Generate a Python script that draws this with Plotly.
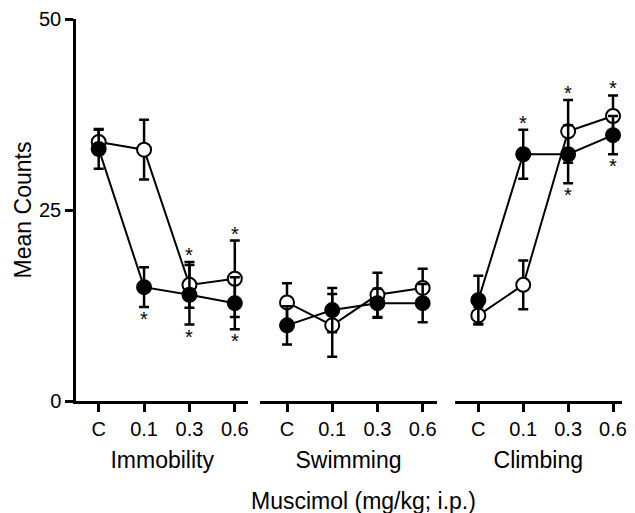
import plotly.graph_objects as go

# ---------------- data ----------------
doses = ["C", "0.1", "0.3", "0.6"]
panels = ["Immobility", "Swimming", "Climbing"]

# open circles
immob_open = [33.9, 32.9, 15.2, 16.0]
immob_open_sem = [1.6, 3.9, 3.0, 5.0]
swim_open = [12.9, 9.9, 13.9, 14.8]
swim_open_sem = [2.5, 4.1, 2.9, 2.5]
climb_open = [11.2, 15.2, 35.3, 37.3]
climb_open_sem = [1.1, 3.2, 4.1, 2.7]

# filled circles
immob_filled = [33.0, 14.9, 13.9, 12.8]
immob_filled_sem = [2.6, 2.6, 3.9, 3.4]
swim_filled = [9.9, 11.9, 12.8, 12.8]
swim_filled_sem = [2.5, 2.9, 1.9, 2.5]
climb_filled = [13.2, 32.3, 32.3, 34.8]
climb_filled_sem = [3.2, 3.2, 3.8, 2.5]

# significance stars: 1 = above the error bar, -1 = below, 0 = none
immob_open_star = [0, 0, 1, 1]
immob_filled_star = [0, -1, -1, -1]
swim_open_star = [0, 0, 0, 0]
swim_filled_star = [0, 0, 0, 0]
climb_open_star = [0, 0, 1, 1]
climb_filled_star = [0, 1, -1, -1]

open_means = [immob_open, swim_open, climb_open]
open_sems = [immob_open_sem, swim_open_sem, climb_open_sem]
open_stars = [immob_open_star, swim_open_star, climb_open_star]
filled_means = [immob_filled, swim_filled, climb_filled]
filled_sems = [immob_filled_sem, swim_filled_sem, climb_filled_sem]
filled_stars = [immob_filled_star, swim_filled_star, climb_filled_star]

FONT = "Liberation Sans, Arial, Helvetica, sans-serif"
fig = go.Figure()
annotations = []

xrefs = ["x", "x2", "x3"]
for p in range(3):
    for means, sems, stars, fill in [
        (open_means[p], open_sems[p], open_stars[p], "white"),
        (filled_means[p], filled_sems[p], filled_stars[p], "black"),
    ]:
        fig.add_trace(go.Scatter(
            x=doses, y=means, xaxis=xrefs[p], yaxis="y",
            mode="lines+markers",
            line=dict(color="black", width=2),
            marker=dict(symbol="circle", size=14, color=fill,
                        line=dict(color="black", width=2)),
            error_y=dict(type="data", array=sems, visible=True,
                         color="black", thickness=2.5, width=5),
            showlegend=False, cliponaxis=False,
        ))
        for i, (m, s, st) in enumerate(zip(means, sems, stars)):
            if st != 0:
                annotations.append(dict(
                    x=i, y=m + st * s, xref=xrefs[p], yref="y",
                    text="*", showarrow=False,
                    font=dict(family=FONT, size=20, color="#000000"),
                    yanchor="middle",
                    yshift=7 if st > 0 else -12,
                ))

axis_common = dict(
    showline=True, linecolor="black", linewidth=2.5,
    ticks="outside", ticklen=8, tickwidth=2.5, tickcolor="black",
    tickfont=dict(family=FONT, size=20, color="black"),
    showgrid=False, zeroline=False, type="category",
)
domains = [[0.0, 0.3158], [0.3376, 0.6606], [0.6933, 1.0]]
ranges = [[-0.5, 3.3], [-0.59, 3.31], [-0.53, 3.2]]
layout_axes = {}
for p, name in enumerate(["xaxis", "xaxis2", "xaxis3"]):
    layout_axes[name] = dict(
        axis_common, domain=domains[p], range=ranges[p], anchor="y",
        title=dict(text=panels[p], font=dict(family=FONT, size=23, color="black"),
                   standoff=14),
    )

annotations.append(dict(
    x=0.526, y=-0.263, xref="paper", yref="paper",
    text="Muscimol (mg/kg; i.p.)", showarrow=False,
    font=dict(family=FONT, size=23, color="black"),
    xanchor="center", yanchor="middle",
))

fig.update_layout(
    width=635, height=513,
    margin=dict(l=76, r=8, t=17, b=112),
    plot_bgcolor="white", paper_bgcolor="white",
    yaxis=dict(
        range=[0, 50], tickvals=[0, 25, 50], showline=True,
        linecolor="black", linewidth=2.5, ticks="outside", ticklen=8,
        tickwidth=2.5, tickcolor="black",
        tickfont=dict(family=FONT, size=20, color="black"),
        showgrid=False, zeroline=False,
        title=dict(text="Mean Counts", font=dict(family=FONT, size=23, color="black"),
                   standoff=1),
    ),
    annotations=annotations,
    **layout_axes,
)

fig.write_html("out.html")
